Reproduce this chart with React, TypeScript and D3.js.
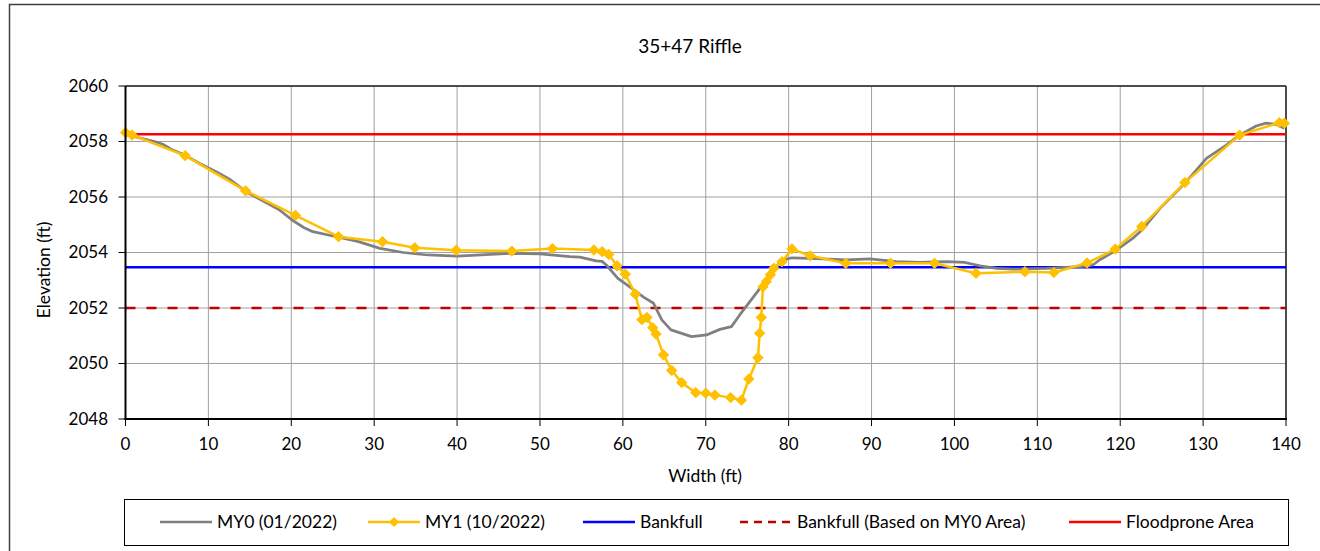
import React from "react";
import * as d3 from "d3";

// Cross-section survey, station 35+47 riffle
const my0X = [0, 1, 3.5, 4.5, 5.5, 7.2, 9, 11, 12.5, 14.5, 16, 18.5, 20.2, 21.5, 22.6, 25.7, 28, 30.7, 33.5, 36.5, 40, 43.5, 46.7, 50, 53.6, 54.8, 56.8, 57.5, 58, 59.4, 60.5, 62.5, 63.7, 64.7, 65.8, 68.3, 70.1, 71.7, 73.1, 74.1, 76.7, 78.1, 79.3, 80.4, 82.6, 87, 89.8, 93, 95.8, 99.1, 101.3, 103.1, 105.1, 107.1, 111.1, 115.2, 116.7, 117.5, 119.4, 121.5, 122.6, 124.8, 127.8, 130.4, 132.8, 134.4, 136.4, 137.6, 138.8, 139.8];
const my0Y = [2058.25, 2058.18, 2058.0, 2057.9, 2057.72, 2057.5, 2057.2, 2056.9, 2056.65, 2056.2, 2055.95, 2055.55, 2055.15, 2054.9, 2054.75, 2054.55, 2054.4, 2054.15, 2054.0, 2053.91, 2053.87, 2053.92, 2053.97, 2053.95, 2053.85, 2053.83, 2053.7, 2053.68, 2053.55, 2053.07, 2052.83, 2052.39, 2052.17, 2051.57, 2051.21, 2050.97, 2051.03, 2051.23, 2051.33, 2051.75, 2052.77, 2053.37, 2053.73, 2053.81, 2053.79, 2053.73, 2053.77, 2053.67, 2053.64, 2053.67, 2053.64, 2053.52, 2053.43, 2053.4, 2053.43, 2053.49, 2053.55, 2053.73, 2054.06, 2054.51, 2054.8, 2055.59, 2056.49, 2057.39, 2057.87, 2058.23, 2058.56, 2058.66, 2058.62, 2058.48];

const my1X = [0, 0.8, 7.2, 14.5, 20.5, 25.7, 31.0, 34.9, 39.9, 46.6, 51.5, 56.5, 57.5, 58.3, 59.3, 60.3, 61.5, 62.3, 62.9, 63.6, 64.0, 64.9, 65.9, 67.1, 68.8, 70.0, 71.1, 73.0, 74.3, 75.2, 76.3, 76.5, 76.7, 76.9, 77.3, 77.8, 78.2, 79.2, 80.4, 82.6, 86.9, 92.3, 97.6, 102.6, 108.5, 112.0, 116.0, 119.4, 122.6, 127.8, 134.4, 139.2, 139.8];
const my1Y = [2058.32, 2058.23, 2057.49, 2056.22, 2055.34, 2054.57, 2054.39, 2054.17, 2054.08, 2054.05, 2054.14, 2054.09, 2054.03, 2053.93, 2053.52, 2053.22, 2052.5, 2051.58, 2051.66, 2051.29, 2051.06, 2050.31, 2049.75, 2049.31, 2048.95, 2048.93, 2048.86, 2048.77, 2048.68, 2049.44, 2050.21, 2051.09, 2051.66, 2052.76, 2052.95, 2053.2, 2053.43, 2053.67, 2054.13, 2053.88, 2053.61, 2053.61, 2053.61, 2053.25, 2053.31, 2053.28, 2053.62, 2054.12, 2054.94, 2056.52, 2058.23, 2058.68, 2058.66];

const bankfull = 2053.47;
const bankfullMY0Area = 2052.0;
const floodprone = 2058.26;

const xTicks = [0, 10, 20, 30, 40, 50, 60, 70, 80, 90, 100, 110, 120, 130, 140];
const yTicks = [2048, 2050, 2052, 2054, 2056, 2058, 2060];

const title = "35+47 Riffle";
const xLabel = "Width (ft)";
const yLabel = "Elevation (ft)";

const legendItems = [
  { label: "MY0 (01/2022)", color: "#808080", dash: "", marker: false, x: 160 },
  { label: "MY1 (10/2022)", color: "#FFC000", dash: "", marker: true, x: 368 },
  { label: "Bankfull", color: "#0000FF", dash: "", marker: false, x: 583 },
  { label: "Bankfull (Based on MY0 Area)", color: "#C00000", dash: "8,6", marker: false, x: 740 },
  { label: "Floodprone Area", color: "#FF0000", dash: "", marker: false, x: 1069 },
];

const W = 1320;
const H = 551;
const plot = { left: 125.5, right: 1286, top: 86, bottom: 419 };
const FONT = "Lato, 'Open Sans', sans-serif";

function diamond(cx: number, cy: number, r: number) {
  return `M${cx},${cy - r}L${cx + r},${cy}L${cx},${cy + r}L${cx - r},${cy}Z`;
}

export default function App() {
  const x = d3.scaleLinear().domain([0, 140]).range([plot.left, plot.right]);
  const y = d3.scaleLinear().domain([2048, 2060]).range([plot.bottom, plot.top]);

  const line = d3
    .line<[number, number]>()
    .x((d) => x(d[0]))
    .y((d) => y(d[1]));

  const my0 = my0X.map((v, i) => [v, my0Y[i]] as [number, number]);
  const my1 = my1X.map((v, i) => [v, my1Y[i]] as [number, number]);

  const legendY = 522;

  return (
    <svg
      width={W}
      height={H}
      style={{ position: "absolute", left: 0, top: 0, background: "#fff" }}
      fontFamily={FONT}
    >
      <rect x={0} y={0} width={W} height={H} fill="#fff" />
      <rect x={9.5} y={4.5} width={W + 20} height={H + 20} fill="none" stroke="#404040" strokeWidth={1.5} />

      <text x={690} y={46} dy="0.35em" textAnchor="middle" fontSize={19} fill="#000">
        {title}
      </text>

      {/* grid */}
      {xTicks.map((t) => (
        <line key={"gx" + t} x1={x(t)} x2={x(t)} y1={plot.top} y2={plot.bottom} stroke="#a0a0a0" strokeWidth={1} />
      ))}
      {yTicks.map((t) => (
        <line key={"gy" + t} x1={plot.left} x2={plot.right} y1={y(t)} y2={y(t)} stroke="#a0a0a0" strokeWidth={1} />
      ))}

      {/* frame */}
      <line x1={plot.left} x2={plot.right} y1={plot.top} y2={plot.top} stroke="#222" strokeWidth={1.5} />
      <line x1={plot.right} x2={plot.right} y1={plot.top} y2={plot.bottom} stroke="#222" strokeWidth={1.5} />

      {/* reference levels */}
      <line x1={plot.left} x2={plot.right} y1={y(bankfullMY0Area)} y2={y(bankfullMY0Area)} stroke="#C00000" strokeWidth={2.5} strokeDasharray="10,11" />
      <line x1={plot.left} x2={plot.right} y1={y(bankfull)} y2={y(bankfull)} stroke="#0000FF" strokeWidth={2.5} />
      <line x1={plot.left} x2={plot.right} y1={y(floodprone)} y2={y(floodprone)} stroke="#FF0000" strokeWidth={2.5} />

      {/* surveys */}
      <path d={line(my0) || ""} fill="none" stroke="#808080" strokeWidth={2.75} strokeLinejoin="round" />
      <path d={line(my1) || ""} fill="none" stroke="#FFC000" strokeWidth={2.5} strokeLinejoin="round" />
      {my1.map((d, i) => (
        <path key={"m" + i} d={diamond(x(d[0]), y(d[1]), 5.2)} fill="#FFC000" stroke="#FFC000" strokeWidth={1} />
      ))}

      {/* axes */}
      <line x1={plot.left} x2={plot.left} y1={plot.top} y2={plot.bottom + 1} stroke="#000" strokeWidth={2} />
      <line x1={plot.left - 1} x2={plot.right + 1} y1={plot.bottom} y2={plot.bottom} stroke="#000" strokeWidth={2} />
      {yTicks.map((t) => (
        <g key={"yt" + t}>
          <line x1={plot.left - 7} x2={plot.left} y1={y(t)} y2={y(t)} stroke="#000" strokeWidth={1} />
          <text x={108} y={y(t)} dy="0.35em" textAnchor="end" fontSize={17} fill="#000">
            {t}
          </text>
        </g>
      ))}
      {xTicks.map((t) => (
        <g key={"xt" + t}>
          <line x1={x(t)} x2={x(t)} y1={plot.bottom} y2={plot.bottom + 7} stroke="#000" strokeWidth={1} />
          <text x={x(t)} y={444} dy="0.35em" textAnchor="middle" fontSize={17} fill="#000">
            {t}
          </text>
        </g>
      ))}

      <text x={705} y={476} dy="0.35em" textAnchor="middle" fontSize={17.5} fill="#000">
        {xLabel}
      </text>
      <text transform={`translate(44,270) rotate(-90)`} dy="0.35em" textAnchor="middle" fontSize={17.5} fill="#000">
        {yLabel}
      </text>

      {/* legend */}
      <rect x={124.5} y={499.5} width={1164} height={46} fill="#fff" stroke="#000" strokeWidth={1} />
      {legendItems.map((it) => (
        <g key={it.label}>
          <line x1={it.x} x2={it.x + 52} y1={legendY} y2={legendY} stroke={it.color} strokeWidth={2.5} strokeDasharray={it.dash || undefined} />
          {it.marker && <path d={diamond(it.x + 26, legendY, 5)} fill={it.color} />}
          <text x={it.x + 57} y={legendY} dy="0.35em" fontSize={17.5} fill="#000">
            {it.label}
          </text>
        </g>
      ))}
    </svg>
  );
}
